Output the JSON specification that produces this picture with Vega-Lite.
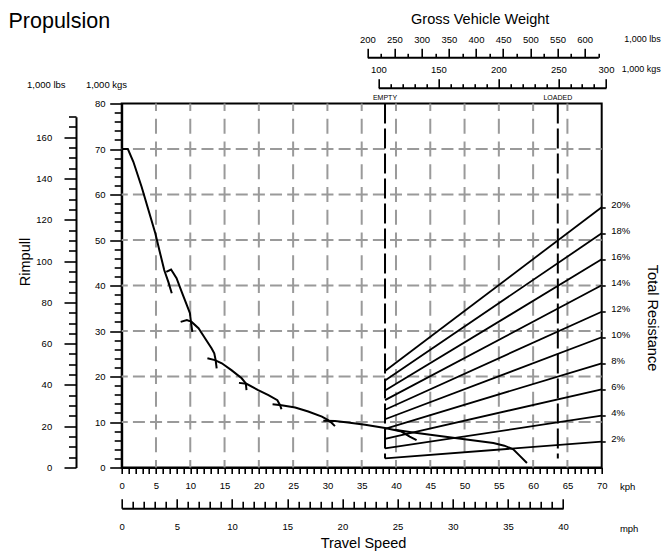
{
  "$schema": "https://vega.github.io/schema/vega-lite/v6.json",
  "width": 480,
  "height": 364,
  "autosize": {"type": "none"},
  "padding": {"left": 121.7, "top": 103.5, "right": 61.3, "bottom": 85.5},
  "config": {
    "font": "Liberation Sans",
    "view": {"stroke": "black", "strokeWidth": 2},
    "axis": {
      "grid": false, "labelFlush": false, "labelOverlap": false,
      "labelColor": "black", "labelFontSize": 9.5, "labelFont": "Liberation Sans",
      "tickColor": "black", "tickWidth": 1.6, "domainColor": "black", "domainWidth": 2,
      "titleColor": "black", "titleFontWeight": "normal", "titleFont": "Liberation Sans"
    }
  },
  "layer": [
    {
      "layer": [
        {
          "data": {"values": [{"kph": 5}, {"kph": 10}, {"kph": 15}, {"kph": 20}, {"kph": 25}, {"kph": 30}, {"kph": 35}, {"kph": 40}, {"kph": 45}, {"kph": 50}, {"kph": 55}, {"kph": 60}, {"kph": 65}]},
          "mark": {"type": "rule", "color": "#9a9a9a", "strokeWidth": 2, "strokeDash": [15, 7.75], "strokeDashOffset": 7.5},
          "encoding": {
            "x": {
              "field": "kph", "type": "quantitative",
              "scale": {"domain": [0, 70], "nice": false, "zero": false},
              "axis": {
                "orient": "bottom",
                "values": [0,1,2,3,4,5,6,7,8,9,10,11,12,13,14,15,16,17,18,19,20,21,22,23,24,25,26,27,28,29,30,31,32,33,34,35,36,37,38,39,40,41,42,43,44,45,46,47,48,49,50,51,52,53,54,55,56,57,58,59,60,61,62,63,64,65,66,67,68,69,70],
                "labelExpr": "datum.value % 5 == 0 ? datum.label : ''",
                "tickSize": 6, "labelPadding": 6.5,
                "title": "kph", "titleX": 497.7, "titleY": 19.2, "titleAlign": "left", "titleBaseline": "middle", "titleFontSize": 9.5
              }
            }
          }
        },
        {
          "data": {"values": [{"kgs": 10}, {"kgs": 20}, {"kgs": 30}, {"kgs": 40}, {"kgs": 50}, {"kgs": 60}, {"kgs": 70}]},
          "mark": {"type": "rule", "color": "#9a9a9a", "strokeWidth": 2, "strokeDash": [12, 5.14], "strokeDashOffset": 6},
          "encoding": {
            "y": {
              "field": "kgs", "type": "quantitative",
              "scale": {"domain": [0, 80], "nice": false, "zero": false},
              "axis": {
                "orient": "left",
                "values": [0,2,4,6,8,10,12,14,16,18,20,22,24,26,28,30,32,34,36,38,40,42,44,46,48,50,52,54,56,58,60,62,64,66,68,70,72,74,76,78,80],
                "labelExpr": "datum.value % 10 == 0 ? datum.label : ''",
                "tickSize": {"condition": {"test": "datum.value % 10 == 0", "value": 12}, "value": 7.5},
                "labelPadding": 4.7,
                "title": "1,000 kgs", "titleAngle": 0, "titleX": -15.7, "titleY": -19.5, "titleAlign": "center", "titleBaseline": "middle", "titleFontSize": 9.5
              }
            }
          }
        },
        {
          "data": {"values": [
            {"pct": "2%", "kph": 38.4, "kgs": 2.0}, {"pct": "2%", "kph": 70, "kgs": 5.67},
            {"pct": "4%", "kph": 38.4, "kgs": 4.2}, {"pct": "4%", "kph": 70, "kgs": 11.38},
            {"pct": "6%", "kph": 38.4, "kgs": 6.3}, {"pct": "6%", "kph": 70, "kgs": 17.19},
            {"pct": "8%", "kph": 38.4, "kgs": 8.5}, {"pct": "8%", "kph": 70, "kgs": 22.9},
            {"pct": "10%", "kph": 38.4, "kgs": 10.6}, {"pct": "10%", "kph": 70, "kgs": 28.62},
            {"pct": "12%", "kph": 38.4, "kgs": 12.7}, {"pct": "12%", "kph": 70, "kgs": 34.24},
            {"pct": "14%", "kph": 38.4, "kgs": 14.8}, {"pct": "14%", "kph": 70, "kgs": 40.04},
            {"pct": "16%", "kph": 38.4, "kgs": 16.9}, {"pct": "16%", "kph": 70, "kgs": 45.76},
            {"pct": "18%", "kph": 38.4, "kgs": 19.1}, {"pct": "18%", "kph": 70, "kgs": 51.47},
            {"pct": "20%", "kph": 38.4, "kgs": 21.2}, {"pct": "20%", "kph": 70, "kgs": 57.19}
          ]},
          "mark": {"type": "line", "color": "black", "strokeWidth": 1.8},
          "encoding": {
            "x": {
              "field": "kph", "type": "quantitative",
              "scale": {"domain": [0, 70], "nice": false, "zero": false},
              "axis": {"orient": "top", "domain": false, "ticks": false, "labels": false,
                "title": "Propulsion", "titleX": -113.7, "titleY": -76, "titleAlign": "left", "titleBaseline": "alphabetic", "titleFontSize": 21.5}
            },
            "y": {"field": "kgs", "type": "quantitative", "scale": {"domain": [0, 80], "nice": false, "zero": false}, "axis": null},
            "detail": {"field": "pct"}
          }
        },
        {
          "data": {"values": [
            {"seg": 1, "kph": 0, "kgs": 70}, {"seg": 1, "kph": 0.9, "kgs": 70}, {"seg": 1, "kph": 1.7, "kgs": 67.2}, {"seg": 1, "kph": 2.9, "kgs": 61.7}, {"seg": 1, "kph": 3.9, "kgs": 56.6}, {"seg": 1, "kph": 4.9, "kgs": 51.5}, {"seg": 1, "kph": 5.6, "kgs": 47.1}, {"seg": 1, "kph": 6.2, "kgs": 43.4}, {"seg": 1, "kph": 6.8, "kgs": 40.8}, {"seg": 1, "kph": 7.3, "kgs": 38.3},
            {"seg": 2, "kph": 6.5, "kgs": 43.0}, {"seg": 2, "kph": 7.2, "kgs": 43.5}, {"seg": 2, "kph": 8.0, "kgs": 41.6}, {"seg": 2, "kph": 8.75, "kgs": 38.6}, {"seg": 2, "kph": 9.5, "kgs": 35.7}, {"seg": 2, "kph": 9.95, "kgs": 33.9}, {"seg": 2, "kph": 10.1, "kgs": 32.0}, {"seg": 2, "kph": 10.3, "kgs": 29.8},
            {"seg": 3, "kph": 8.6, "kgs": 32.0}, {"seg": 3, "kph": 9.5, "kgs": 32.4}, {"seg": 3, "kph": 10.2, "kgs": 32.0}, {"seg": 3, "kph": 11.2, "kgs": 30.6}, {"seg": 3, "kph": 12.15, "kgs": 28.4}, {"seg": 3, "kph": 13.1, "kgs": 26.2}, {"seg": 3, "kph": 13.5, "kgs": 25.1}, {"seg": 3, "kph": 13.7, "kgs": 23.6}, {"seg": 3, "kph": 13.85, "kgs": 21.8},
            {"seg": 4, "kph": 12.5, "kgs": 24.0}, {"seg": 4, "kph": 13.6, "kgs": 23.6}, {"seg": 4, "kph": 14.6, "kgs": 22.9}, {"seg": 4, "kph": 16.0, "kgs": 21.4}, {"seg": 4, "kph": 17.5, "kgs": 19.6}, {"seg": 4, "kph": 18.1, "kgs": 18.5}, {"seg": 4, "kph": 18.2, "kgs": 17.0},
            {"seg": 5, "kph": 17.1, "kgs": 18.6}, {"seg": 5, "kph": 18.2, "kgs": 18.4}, {"seg": 5, "kph": 19.9, "kgs": 17.0}, {"seg": 5, "kph": 21.4, "kgs": 15.9}, {"seg": 5, "kph": 22.7, "kgs": 14.8}, {"seg": 5, "kph": 23.1, "kgs": 13.7}, {"seg": 5, "kph": 23.3, "kgs": 12.8},
            {"seg": 6, "kph": 22.0, "kgs": 13.9}, {"seg": 6, "kph": 23.3, "kgs": 13.7}, {"seg": 6, "kph": 25.3, "kgs": 13.2}, {"seg": 6, "kph": 27.2, "kgs": 12.3}, {"seg": 6, "kph": 29.2, "kgs": 11.2}, {"seg": 6, "kph": 30.1, "kgs": 10.4}, {"seg": 6, "kph": 30.6, "kgs": 9.85}, {"seg": 6, "kph": 31.1, "kgs": 9.1},
            {"seg": 7, "kph": 29.4, "kgs": 10.3}, {"seg": 7, "kph": 31.1, "kgs": 10.2}, {"seg": 7, "kph": 33.0, "kgs": 9.9}, {"seg": 7, "kph": 35.5, "kgs": 9.4}, {"seg": 7, "kph": 38.4, "kgs": 8.7}, {"seg": 7, "kph": 40.8, "kgs": 7.9}, {"seg": 7, "kph": 42.0, "kgs": 6.8}, {"seg": 7, "kph": 43.0, "kgs": 6.0},
            {"seg": 8, "kph": 39.8, "kgs": 8.3}, {"seg": 8, "kph": 42.0, "kgs": 7.8}, {"seg": 8, "kph": 45.0, "kgs": 7.2}, {"seg": 8, "kph": 50.0, "kgs": 6.2}, {"seg": 8, "kph": 54.2, "kgs": 5.4}, {"seg": 8, "kph": 55.8, "kgs": 4.8}, {"seg": 8, "kph": 57.1, "kgs": 4.0}, {"seg": 8, "kph": 58.1, "kgs": 2.5}, {"seg": 8, "kph": 59.1, "kgs": 1.0}
          ]},
          "mark": {"type": "line", "color": "black", "strokeWidth": 2},
          "encoding": {
            "x": {
              "field": "kph", "type": "quantitative",
              "scale": {"domain": [0, 70], "nice": false, "zero": false},
              "axis": {"orient": "bottom", "domain": false, "ticks": false, "labels": false,
                "title": "Travel Speed", "titleX": 241.3, "titleY": 75.5, "titleAlign": "center", "titleBaseline": "middle", "titleFontSize": 14.5}
            },
            "y": {
              "field": "kgs", "type": "quantitative",
              "scale": {"domain": [0, 80], "nice": false, "zero": false},
              "axis": {"orient": "left", "domain": false, "ticks": false, "labels": false,
                "title": "Rimpull", "titleAngle": 270, "titleX": -96.7, "titleY": 158, "titleAlign": "center", "titleBaseline": "middle", "titleFontSize": 14.5}
            },
            "detail": {"field": "seg"}
          }
        },
        {
          "data": {"values": [{"label": "EMPTY", "kph": 38.4}, {"label": "LOADED", "kph": 63.6}]},
          "mark": {"type": "rule", "color": "black", "strokeWidth": 2, "strokeDash": [20, 5]},
          "encoding": {
            "x": {
              "field": "kph", "type": "quantitative",
              "scale": {"domain": [0, 70], "nice": false, "zero": false},
              "axis": {"orient": "top", "domain": false, "ticks": false, "labels": false,
                "title": "Gross Vehicle Weight", "titleX": 358, "titleY": -80.2, "titleAlign": "center", "titleBaseline": "alphabetic", "titleFontSize": 14.5}
            },
            "y": {"datum": 80, "type": "quantitative", "scale": {"domain": [0, 80], "nice": false, "zero": false}, "axis": null},
            "y2": {"datum": 2}
          }
        },
        {
          "data": {"values": [{"label": "EMPTY", "kph": 38.4}, {"label": "LOADED", "kph": 63.6}]},
          "mark": {"type": "text", "fontSize": 7, "baseline": "bottom", "dy": -3, "color": "black"},
          "encoding": {
            "x": {"field": "kph", "type": "quantitative", "scale": {"domain": [0, 70], "nice": false, "zero": false}, "axis": null},
            "y": {"datum": 80, "type": "quantitative", "scale": {"domain": [0, 80], "nice": false, "zero": false}, "axis": null},
            "text": {"field": "label"}
          }
        }
      ],
      "resolve": {"axis": {"x": "independent", "y": "independent"}}
    },
    {
      "data": {"values": [{"mph": 0}, {"mph": 40}]},
      "mark": {"type": "rule", "strokeOpacity": 0},
      "encoding": {
        "x": {
          "field": "mph", "type": "quantitative",
          "scale": {"domain": [0, 40], "range": [0, 441.4], "nice": false, "zero": false},
          "axis": {
            "orient": "bottom", "offset": 40.8,
            "values": [0,1,2,3,4,5,6,7,8,9,10,11,12,13,14,15,16,17,18,19,20,21,22,23,24,25,26,27,28,29,30,31,32,33,34,35,36,37,38,39,40],
            "labelExpr": "datum.value % 5 == 0 ? datum.label : ''",
            "tickSize": {"condition": {"test": "datum.value % 5 == 0", "value": -9.5}, "value": -7},
            "labelPadding": 22.7,
            "title": "mph", "titleX": 497.7, "titleY": 19.7, "titleAlign": "left", "titleBaseline": "middle", "titleFontSize": 9.5
          }
        }
      }
    },
    {
      "data": {"values": [{"lbs": 200}, {"lbs": 625}]},
      "mark": {"type": "rule", "strokeOpacity": 0},
      "encoding": {
        "x": {
          "field": "lbs", "type": "quantitative",
          "scale": {"domain": [200, 625], "range": [245.6, 476.6], "nice": false, "zero": false},
          "axis": {
            "orient": "top", "offset": 46.2,
            "values": [200,225,250,275,300,325,350,375,400,425,450,475,500,525,550,575,600,625],
            "labelExpr": "datum.value % 50 == 0 ? datum.label : ''",
            "tickSize": {"condition": {"test": "datum.value % 50 == 0", "value": 9}, "value": 4},
            "labelPadding": 4,
            "title": "1,000 lbs", "titleX": 502, "titleY": -19, "titleAlign": "left", "titleBaseline": "middle", "titleFontSize": 9
          }
        }
      }
    },
    {
      "data": {"values": [{"kgs": 100}, {"kgs": 300}]},
      "mark": {"type": "rule", "strokeOpacity": 0},
      "encoding": {
        "x": {
          "field": "kgs", "type": "quantitative",
          "scale": {"domain": [100, 250, 300], "range": [256.6, 436.6, 484.3], "nice": false, "zero": false},
          "axis": {
            "orient": "top", "offset": 15.8,
            "values": [100,110,120,130,140,150,160,170,180,190,200,210,220,230,240,250,262.5,275,287.5,300],
            "labelExpr": "datum.value % 50 == 0 ? datum.label : ''",
            "tickSize": {"condition": {"test": "datum.value % 50 == 0", "value": 9}, "value": 4},
            "labelPadding": 4,
            "title": "1,000 kgs", "titleX": 499.5, "titleY": -19.4, "titleAlign": "left", "titleBaseline": "middle", "titleFontSize": 9
          }
        }
      }
    },
    {
      "data": {"values": [{"lbs": 0}, {"lbs": 170}]},
      "mark": {"type": "rule", "strokeOpacity": 0},
      "encoding": {
        "y": {
          "field": "lbs", "type": "quantitative",
          "scale": {"domain": [0, 170], "range": [364, 13.15], "nice": false, "zero": false},
          "axis": {
            "orient": "left", "offset": 45.7,
            "values": [0,5,10,15,20,25,30,35,40,45,50,55,60,65,70,75,80,85,90,95,100,105,110,115,120,125,130,135,140,145,150,155,160,165,170],
            "labelExpr": "datum.value % 20 == 0 ? datum.label : ''",
            "tickSize": {"condition": {"test": "datum.value % 20 == 0", "value": 12}, "value": 7.5},
            "labelPadding": 12.3,
            "title": "1,000 lbs", "titleAngle": 0, "titleX": -30.2, "titleY": -19.5, "titleAlign": "center", "titleBaseline": "middle", "titleFontSize": 9.5
          }
        }
      }
    },
    {
      "data": {"values": [{"pct": 0}, {"pct": 20}]},
      "mark": {"type": "rule", "strokeOpacity": 0},
      "encoding": {
        "y": {
          "field": "pct", "type": "quantitative",
          "scale": {"domain": [0, 27.97], "nice": false, "zero": false},
          "axis": {
            "orient": "right", "domain": false,
            "values": [2,4,6,8,10,12,14,16,18,20],
            "labelExpr": "datum.value + '%'",
            "tickSize": 3.5, "labelPadding": 5.5, "labelOffset": -3,
            "title": "Total Resistance", "titleAngle": 90, "titleX": 50, "titleY": 214, "titleAlign": "center", "titleBaseline": "middle", "titleFontSize": 14.5
          }
        }
      }
    }
  ],
  "resolve": {"scale": {"x": "independent", "y": "independent"}, "axis": {"x": "independent", "y": "independent"}}
}
